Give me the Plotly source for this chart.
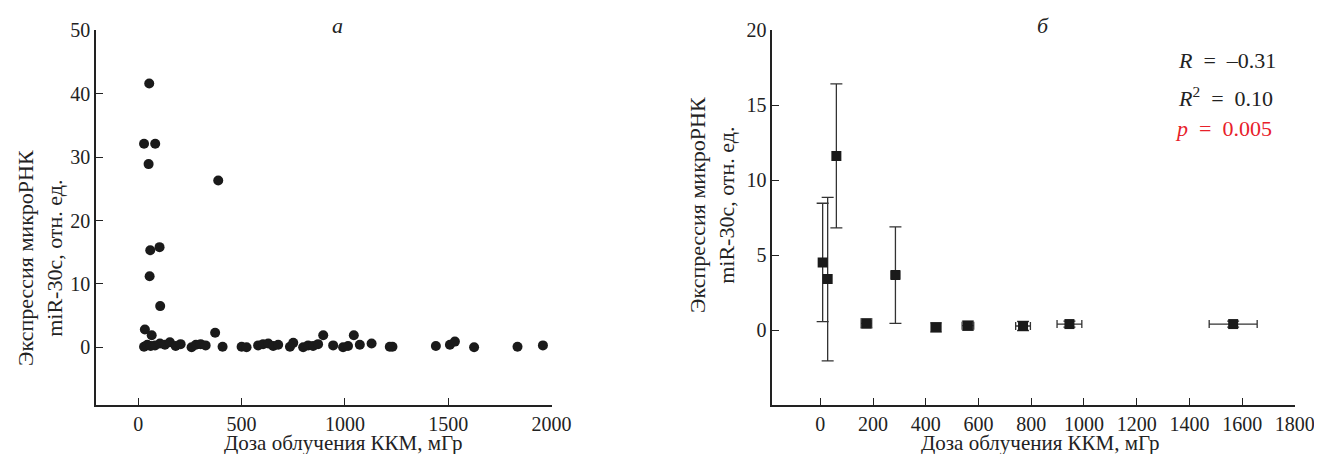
import plotly.graph_objects as go

# Panel a: individual measurements
dose_a = [53, 28, 82, 50, 387, 58, 103, 55, 106, 32, 65, 372, 895, 1043,
          28, 44, 60, 81, 105, 129, 153, 181, 205, 258, 279, 302, 326, 408,
          500, 524, 580, 604, 629, 653, 677, 734, 750, 798, 822, 846, 870,
          943, 991, 1015, 1072, 1129, 1217, 1230, 1440, 1508, 1532, 1625,
          1835, 1958]
expr_a = [41.6, 32.1, 32.1, 28.9, 26.3, 15.3, 15.8, 11.2, 6.5, 2.8, 1.9, 2.3, 1.9, 1.9,
          0.1, 0.4, 0.2, 0.3, 0.6, 0.4, 0.8, 0.2, 0.5, 0.0, 0.4, 0.5, 0.3, 0.1,
          0.1, 0.0, 0.3, 0.5, 0.6, 0.2, 0.4, 0.1, 0.7, 0.0, 0.3, 0.2, 0.5,
          0.3, 0.0, 0.2, 0.4, 0.6, 0.1, 0.1, 0.2, 0.4, 0.9, 0.0,
          0.1, 0.3]

# Panel b: group means with errors
dose_b = [9, 28, 61, 175, 285, 439, 560, 769, 945, 1566]
dose_b_err = [12, 8, 8, 20, 16, 19, 22, 28, 47, 91]
expr_b = [4.51, 3.4, 11.62, 0.44, 3.67, 0.18, 0.29, 0.27, 0.4, 0.4]
expr_b_err = [3.95, 5.45, 4.8, 0.3, 3.22, 0.3, 0.3, 0.3, 0.2, 0.2]

xticks_a = [0, 500, 1000, 1500, 2000]
yticks_a = [0, 10, 20, 30, 40, 50]
xticks_b = [0, 200, 400, 600, 800, 1000, 1200, 1400, 1600, 1800]
yticks_b = [0, 5, 10, 15, 20]

FONT = "Liberation Serif"
OFF = 8  # default page body margin
W, H = 1322 - OFF, 462 - 2 * OFF

fig = go.Figure()
fig.add_trace(go.Scatter(x=dose_a, y=expr_a, mode="markers",
                         marker=dict(color="#1a1a1a", size=10, symbol="circle"),
                         xaxis="x", yaxis="y", showlegend=False))
fig.add_trace(go.Scatter(x=dose_b, y=expr_b, mode="markers",
                         marker=dict(color="#1a1a1a", size=10, symbol="square"),
                         error_y=dict(type="data", array=expr_b_err, color="#333",
                                      thickness=1.3, width=6),
                         error_x=dict(type="data", array=dose_b_err, color="#333",
                                      thickness=1.3, width=4),
                         xaxis="x2", yaxis="y2", showlegend=False))

def px_x(p):
    return (p - OFF) / W

def px_y(p):
    return (H - (p - OFF)) / H

axis_common = dict(showline=True, linecolor="#222", linewidth=1.5, ticks="inside",
                   ticklen=7, tickwidth=1.3, tickcolor="#222", showgrid=False,
                   zeroline=False, mirror=False, automargin=False,
                   ticklabeloverflow="allow",
                   tickfont=dict(family=FONT, size=20, color="#222"))

fig.update_layout(
    width=W, height=H, margin=dict(l=0, r=0, t=0, b=0),
    paper_bgcolor="white", plot_bgcolor="white",
    xaxis=dict(domain=[px_x(96), px_x(551.7)], range=[-204.5, 2000.5], tickvals=xticks_a,
               anchor="y", **axis_common),
    yaxis=dict(domain=[px_y(405), px_y(30)], range=[-9.1, 50.05], tickvals=yticks_a,
               anchor="x", **axis_common),
    xaxis2=dict(domain=[px_x(772.3), px_x(1295)], range=[-182, 1800.5], tickvals=xticks_b,
                anchor="y2", **axis_common),
    yaxis2=dict(domain=[px_y(405), px_y(30)], range=[-5, 20.02], tickvals=yticks_b,
                anchor="x2", **axis_common),
)

title_font = dict(family=FONT, size=21, color="#222")
ann_font = dict(family=FONT, size=22, color="#222")

def note(xp, yp, text, font, xanchor="center", **kw):
    fig.add_annotation(x=px_x(xp), y=px_y(yp), xref="paper", yref="paper",
                       xanchor=xanchor, yanchor="middle", text=text,
                       showarrow=False, font=font, **kw)

note(343, 443, "Доза облучения ККМ, мГр", title_font)
note(1040, 443, "Доза облучения ККМ, мГр", title_font)
ylab_font = dict(family=FONT, size=22, color="#222")
note(40, 258, "Экспрессия микроРНК<br>miR-30c, отн. ед.", ylab_font, textangle=-90, align="center")
note(712, 205, "Экспрессия микроРНК<br>miR-30c, отн. ед.", ylab_font, textangle=-90, align="center")
note(337, 25, "<i>а</i>", dict(family=FONT, size=22, color="#222"))
note(1043, 25, "<i>б</i>", dict(family=FONT, size=22, color="#222"))
sp = "&nbsp;&nbsp;"
note(1176, 60, "<i>R</i>" + sp + "=" + sp + "–0.31", ann_font, xanchor="left")
note(1176, 97, "<i>R</i><sup>2</sup>" + sp + "=" + sp + "0.10", ann_font, xanchor="left")
note(1173, 128, "<i>p</i>" + sp + "=" + sp + "0.005", dict(family=FONT, size=22, color="#e8202a"),
     xanchor="left")

fig.write_html("out.html")
